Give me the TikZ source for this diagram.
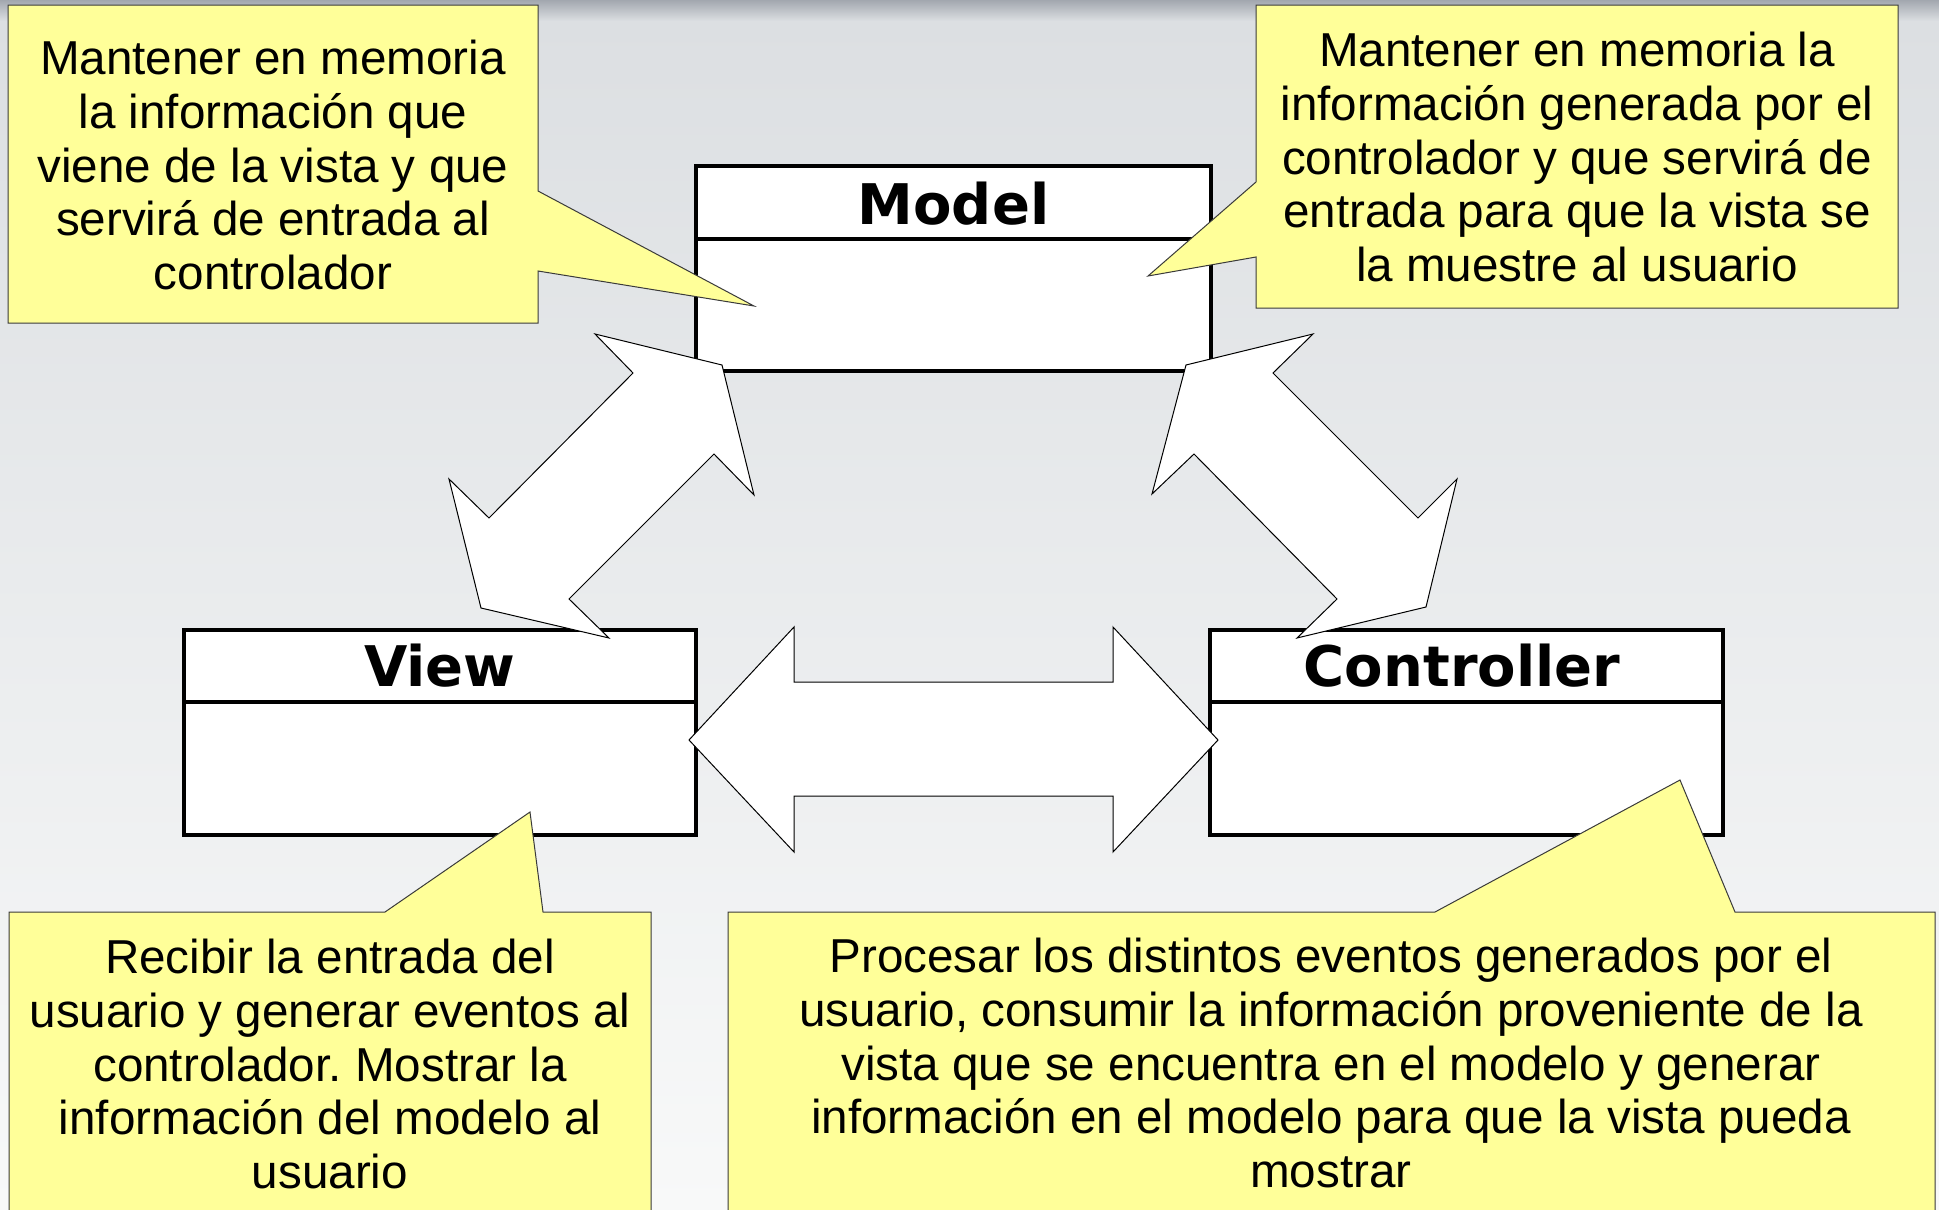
\documentclass[tikz,border=0pt]{standalone}
\usepackage{fontspec}
\setmainfont{Liberation Sans}
\newfontfamily\titlefont{DejaVu Sans}
\frenchspacing
\definecolor{callfill}{HTML}{FFFF99}
\definecolor{callline}{HTML}{3A3A3A}
\definecolor{bgtop}{HTML}{DCDFE2}
\definecolor{bgbot}{HTML}{F8F9F9}
\definecolor{bandtop}{HTML}{A2A7AF}
\tikzset{
  umlbox/.style={draw=black, line width=2pt, fill=white},
  umlsep/.style={draw=black, line width=2pt},
  umltitle/.style={anchor=base, inner sep=0pt, font=\titlefont\bfseries\fontsize{28pt}{32pt}\selectfont},
  blockarrow/.style={draw=black, line width=0.5pt, fill=white, line join=miter},
  callout/.style={draw=callline, line width=0.5pt, fill=callfill, line join=miter},
  calltext/.style={anchor=north, inner sep=0pt, align=center, font=\fontsize{23.8pt}{26.8pt}\selectfont},
}
\begin{document}
\begin{tikzpicture}[x=0.5pt,y=-0.5pt]
\useasboundingbox (0,0) rectangle (1939,1210);
\clip (0,0) rectangle (1939,1210);
% background
\shade[top color=bgtop, bottom color=bgbot] (0,20) rectangle (1939,1210);
\shade[top color=bandtop, bottom color=bgtop] (0,0) rectangle (1939,21);

% UML boxes
\draw[umlbox] (696,166) rectangle (1211,371);
\draw[umlsep] (696,239) -- (1211,239);
\node[umltitle] (modelt) at (953.5,224) {Model};

\draw[umlbox] (184,630) rectangle (696,835);
\draw[umlsep] (184,702) -- (696,702);
\node[umltitle] (viewt) at (440,686) {View};

\draw[umlbox] (1210,630) rectangle (1723,835);
\draw[umlsep] (1210,702) -- (1723,702);
\node[umltitle] (ctrlt) at (1462,686) {Controller};

% block arrows
\draw[blockarrow] (689,740) -- (794,627) -- (794,682) -- (1113,682) -- (1113,627)
  -- (1218,740) -- (1113,852) -- (1113,796) -- (794,796) -- (794,852) -- cycle;
\draw[blockarrow] (722,365) -- (754,495) -- (714,454) -- (569,599) -- (609,638)
  -- (481,608) -- (449,479) -- (489,518) -- (633,373) -- (595,334) -- cycle;
\draw[blockarrow] (1186,365) -- (1152,494) -- (1194,454) -- (1337,599) -- (1297,638)
  -- (1426,607) -- (1457,479) -- (1418,518) -- (1273,373) -- (1313,334) -- cycle;

% callouts
\draw[callout] (8,5) -- (538,5) -- (538,191) -- (754,306) -- (538,271) -- (538,323) -- (8,323) -- cycle;
\node[calltext] (tl) at (273,37) {\strut Mantener en memoria\\la información que\\viene de la vista y que\\servirá de entrada al\\controlador};

\draw[callout] (1256,5) -- (1898,5) -- (1898,308) -- (1256,308) -- (1256,257) -- (1148,276) -- (1256,182) -- cycle;
\node[calltext] (tr) at (1577,29) {\strut Mantener en memoria la\\información generada por el\\controlador y que servirá de\\entrada para que la vista se\\la muestre al usuario};

\draw[callout] (9,912) -- (385,912) -- (530,812) -- (543,912) -- (651,912) -- (651,1230) -- (9,1230) -- cycle;
\node[calltext] (bl) at (330,936) {\strut Recibir la entrada del\\usuario y generar eventos al\\controlador. Mostrar la\\información del modelo al\\usuario};

\draw[callout] (728,912) -- (1435,912) -- (1680,780) -- (1735,912) -- (1935,912) -- (1935,1230) -- (728,1230) -- cycle;
\node[calltext] (br) at (1331,935) {\strut Procesar los distintos eventos generados por el\\usuario, consumir la información proveniente de la\\vista que se encuentra en el modelo y generar\\información en el modelo para que la vista pueda\\mostrar};
\end{tikzpicture}
\end{document}
